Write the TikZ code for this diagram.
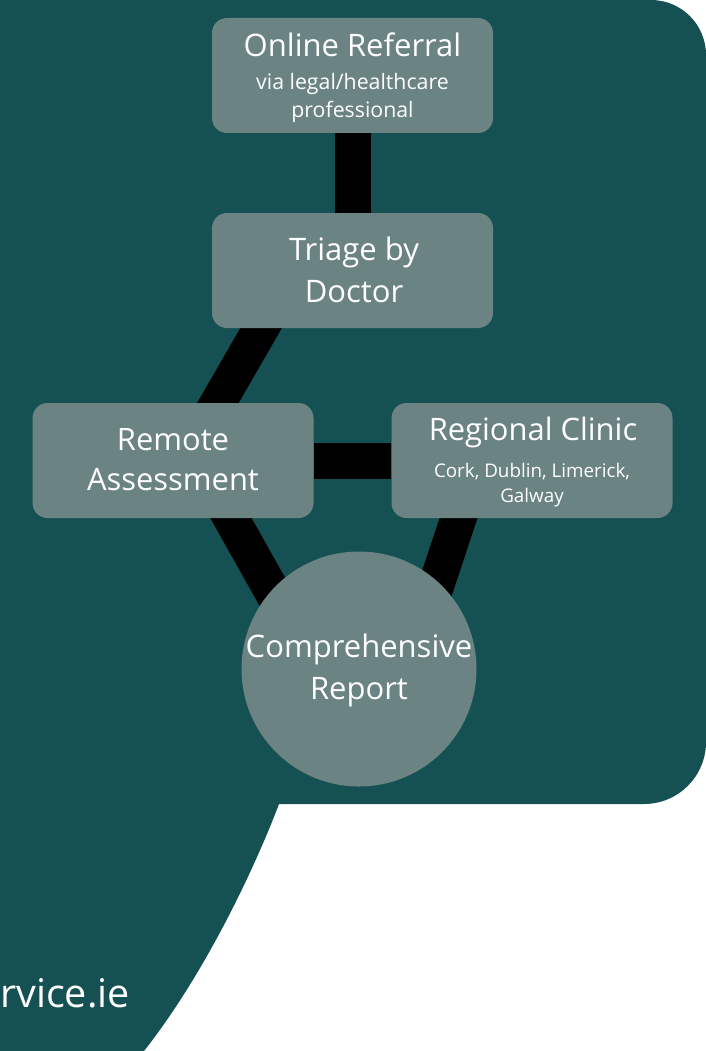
\documentclass[tikz,border=0pt]{standalone}
\usepackage{fontspec}
\setmainfont{Open Sans}
\usetikzlibrary{calc,backgrounds}
\definecolor{bgteal}{RGB}{21,80,82}
\definecolor{boxgrey}{RGB}{107,131,131}
\tikzset{
  stepbox/.style={draw=none, fill=boxgrey, rounded corners=15pt, minimum width=281pt, minimum height=115pt, inner sep=0pt},
  roundbox/.style={draw=none, fill=boxgrey, circle, minimum size=235pt, inner sep=0pt},
  link/.style={line width=36pt, draw=black, line cap=butt},
  txt/.style={text=white, anchor=base, inner sep=0pt},
  big/.style={font=\fontsize{31}{37}\selectfont},
  mid/.style={font=\fontsize{30.9}{37}\selectfont},
  small/.style={font=\fontsize{21.3}{25}\selectfont},
  tiny/.style={font=\fontsize{18.8}{22}\selectfont},
}
\begin{document}
\begin{tikzpicture}[x=1pt,y=-1pt]
\useasboundingbox (0,0) rectangle (706,1051);
\begin{scope}[on background layer]
\fill[white] (0,0) rectangle (706,1051);
\fill[bgteal] (0,0) -- (651,0) .. controls (681.4,0) and (706,24.6) .. (706,55)
  -- (706,742) .. controls (706,776.2) and (678.2,804) .. (644,804)
  -- (279,804) .. controls (250,880) and (200,980) .. (144,1051)
  -- (0,1051) -- cycle;
\end{scope}
% boxes
\node[stepbox] (ref) at (352.5,75.5) {};
\node[stepbox] (tri) at (352.5,270.5) {};
\node[stepbox] (rem) at (173,460.5) {};
\node[stepbox] (reg) at (532,460.5) {};
\node[roundbox] (rep) at (359,669) {};
% texts
\node[txt,big] (t1) at (352.5,56.7) {Online Referral};
\node[txt,small] (t1a) at (352.5,90) {via legal/healthcare};
\node[txt,small] (t1b) at (352.5,117.3) {professional};
\node[txt,big] (t2) at (354,260) {Triage by};
\node[txt,big] (t2a) at (354,302.7) {Doctor};
\node[txt,mid] (t3) at (173,450) {Remote};
\node[txt,mid] (t3a) at (173,490) {Assessment};
\node[txt,mid] (t4) at (533,440) {Regional Clinic};
\node[txt,tiny] (t4a) at (532,477) {Cork, Dublin, Limerick,};
\node[txt,tiny] (t4b) at (532,502) {Galway};
\node[txt,big] (t5) at (359,657) {Comprehensive};
\node[txt,big] (t5a) at (359,699) {Report};
\node[text=white, anchor=base east, inner sep=0pt, font=\fontsize{39.5}{45}\selectfont] (web) at (130,1007) {rvice.ie};
% connectors
\begin{scope}[on background layer]
\draw[link] (ref.south) -- (tri.north);
\draw[link] (rem.east) -- (reg.west);
\draw[link, shorten <=-12pt, shorten >=-12pt] ($(tri.south)+(-91.5,0)$) -- ($(rem.north)+(45,0)$);
\draw[link, shorten <=-12pt] ($(rem.south)+(58,0)$) -- ($(rep.center)+(-82,-69)$);
\draw[link, shorten <=-12pt] ($(reg.south)+(-73.5,0)$) -- ($(rep.center)+(69,-59)$);
\end{scope}
\end{tikzpicture}
\end{document}
